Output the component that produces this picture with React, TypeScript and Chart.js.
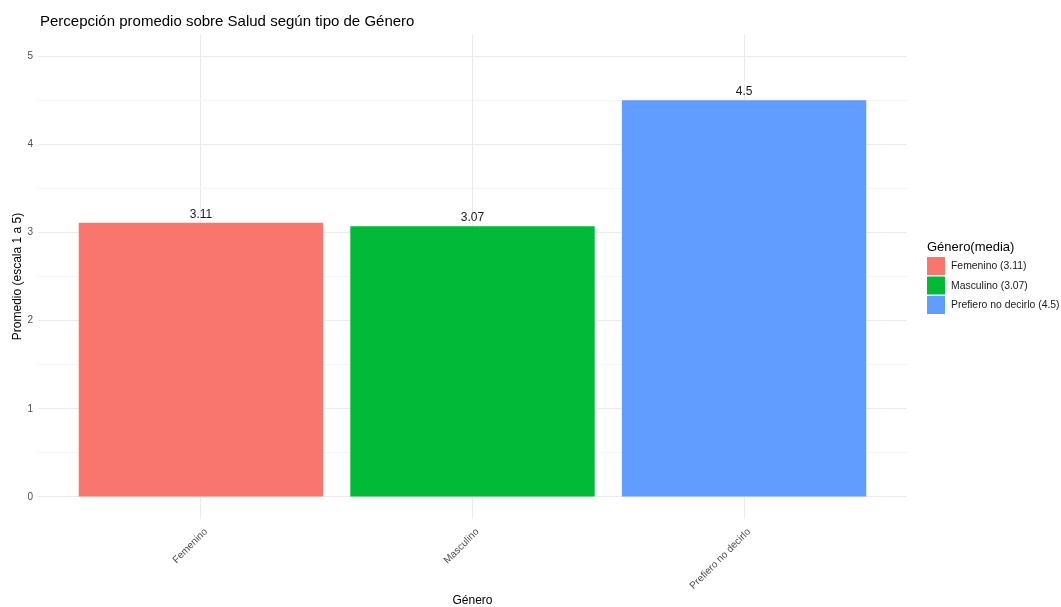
import React, { useEffect, useRef } from 'react';
import { Chart, registerables } from 'chart.js';

Chart.register(...registerables);

const categories = ['Femenino', 'Masculino', 'Prefiero no decirlo'];
const means = [3.11, 3.07, 4.5];
const meanLabels = ['3.11', '3.07', '4.5'];
const colors = ['#F8766D', '#00BA38', '#619CFF'];
const yGridValues = [0, 0.5, 1, 1.5, 2, 2.5, 3, 3.5, 4, 4.5, 5];
const titleText = 'Percepción promedio sobre Salud según tipo de Género';
const yTitle = 'Promedio (escala 1 a 5)';
const xTitle = 'Género';
const legendTitle = 'Género(media)';
const legendLabels = ['Femenino (3.11)', 'Masculino (3.07)', 'Prefiero no decirlo (4.5)'];

const FONT = '"Liberation Sans", Arial, sans-serif';

const textPlugin = {
  id: 'ggTexts',
  afterDatasetsDraw(chart: any) {
    const ctx = chart.ctx;
    const meta = chart.getDatasetMeta(0);
    ctx.save();
    ctx.font = `12px ${FONT}`;
    ctx.fillStyle = '#1a1a1a';
    ctx.textAlign = 'center';
    ctx.textBaseline = 'alphabetic';
    meta.data.forEach((bar: any, i: number) => {
      ctx.fillText(meanLabels[i], bar.x, bar.y - 5);
    });
    ctx.restore();
  },
  afterDraw(chart: any) {
    const ctx = chart.ctx;
    const area = chart.chartArea;
    ctx.save();
    // title
    ctx.fillStyle = '#000000';
    ctx.font = `15px ${FONT}`;
    ctx.textAlign = 'left';
    ctx.textBaseline = 'alphabetic';
    ctx.fillText(titleText, 40, 26);
    // x title
    ctx.font = `12px ${FONT}`;
    ctx.textAlign = 'center';
    ctx.textBaseline = 'middle';
    ctx.fillText(xTitle, (area.left + area.right) / 2, 601);
    // y title
    ctx.save();
    ctx.translate(18, (area.top + area.bottom) / 2);
    ctx.rotate(-Math.PI / 2);
    ctx.fillText(yTitle, 0, 0);
    ctx.restore();
    // legend
    ctx.textAlign = 'left';
    ctx.font = `13px ${FONT}`;
    ctx.fillText(legendTitle, 927, 247);
    ctx.font = `10.4px ${FONT}`;
    legendLabels.forEach((lab, i) => {
      const y = 257 + i * 19.5;
      ctx.fillStyle = colors[i];
      ctx.fillRect(927, y, 18, 18);
      ctx.fillStyle = '#1a1a1a';
      ctx.fillText(lab, 951, y + 9.5);
    });
    ctx.restore();
  },
};

export default function App() {
  const ref = useRef<HTMLCanvasElement | null>(null);

  useEffect(() => {
    if (!ref.current) return;
    const chart = new Chart(ref.current, {
      type: 'bar',
      data: {
        datasets: [
          {
            data: means.map((v, i) => ({ x: i + 1, y: v })) as any,
            backgroundColor: colors,
            borderWidth: 0,
            categoryPercentage: 1,
            barPercentage: 0.9,
          },
        ],
      },
      options: {
        responsive: false,
        animation: false,
        layout: { padding: { top: 34, right: 154, left: 0, bottom: 0 } },
        plugins: {
          legend: { display: false },
          title: { display: false },
          tooltip: { enabled: false },
        },
        scales: {
          x: {
            type: 'linear',
            min: 0.4,
            max: 3.6,
            offset: false,
            afterBuildTicks: (s: any) => {
              s.ticks = categories.map((_, i) => ({ value: i + 1 }));
            },
            afterFit: (s: any) => {
              s.height = 88;
            },
            ticks: {
              autoSkip: false,
              minRotation: 45,
              maxRotation: 45,
              padding: 7,
              labelOffset: 5,
              color: '#4d4d4d',
              font: { size: 10, family: FONT },
              callback: (v: any) => categories[Math.round(Number(v)) - 1] ?? '',
            },
            grid: { color: '#ebebeb', lineWidth: 1, drawTicks: false, offset: false },
            border: { display: false },
          },
          y: {
            type: 'linear',
            min: -0.25,
            max: 5.25,
            afterBuildTicks: (s: any) => {
              s.ticks = yGridValues.map((v) => ({ value: v }));
            },
            afterFit: (s: any) => {
              s.width = 38;
            },
            ticks: {
              padding: 5,
              color: '#4d4d4d',
              font: { size: 10, family: FONT },
              callback: (v: any) => (Number.isInteger(Number(v)) ? String(v) : ''),
            },
            grid: {
              drawTicks: false,
              lineWidth: 1,
              color: (c: any) =>
                c.tick && Number.isInteger(c.tick.value) ? '#ebebeb' : '#f3f3f3',
            },
            border: { display: false },
          },
        },
      },
      plugins: [textPlugin],
    });
    return () => chart.destroy();
  }, []);

  return (
    <div style={{ position: 'fixed', left: 0, top: 0, width: 1061, height: 607, background: '#ffffff' }}>
      <canvas ref={ref} width={1061} height={607} style={{ display: 'block' }} />
    </div>
  );
}
